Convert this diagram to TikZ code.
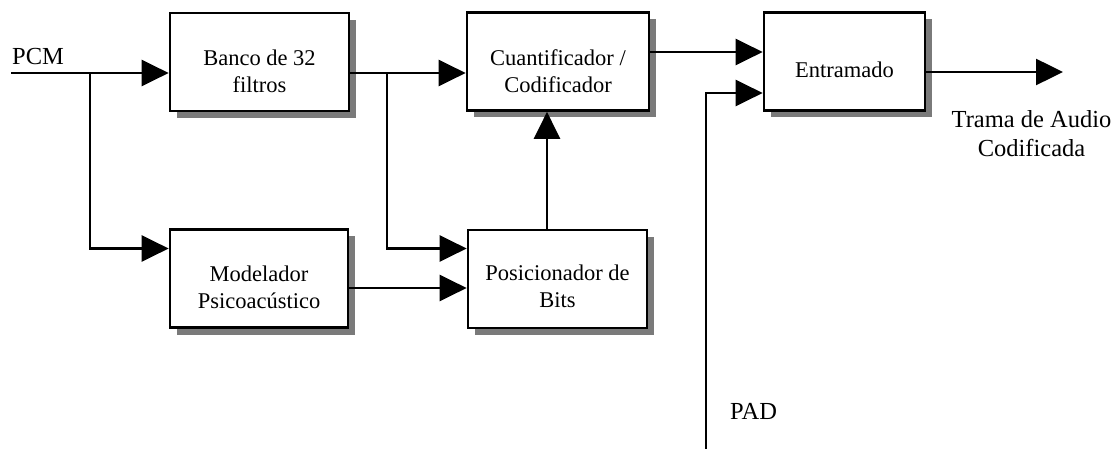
\documentclass[tikz,border=0pt]{standalone}
\usepackage{fontspec}
\setmainfont{Liberation Serif}
\usetikzlibrary{arrows.meta,shadows}

\begin{document}
\begin{tikzpicture}[x=1pt, y=-1pt,
		bloque/.style={draw, line width=2.7pt, fill=white, minimum width=#1, minimum height=98pt, inner sep=0pt,
			drop shadow={shadow xshift=7pt, shadow yshift=-7pt, fill=black!52, opacity=1}},
		texto/.style={align=center, font=\fontsize{22.5}{27}\selectfont, inner sep=0pt},
		rotulo/.style={font=\fontsize{24.5}{29}\selectfont, inner sep=0pt},
		flecha/.style={-{Triangle[length=27pt, width=26pt]}, line width=2.5pt}]
		\useasboundingbox (0,0) rectangle (1119,449);
		\node[bloque=179pt] (banco) at (259.5,62) {};
		\node[bloque=182pt] (cuant) at (558,61.5) {};
		\node[bloque=161pt] (entr) at (844.5,61.5) {};
		\node[bloque=178pt] (model) at (259,278.5) {};
		\node[bloque=179pt] (posic) at (557.5,279) {};
		\node[texto] (bancoT) at (259.5,71) {Banco de 32\\filtros};
		\node[texto] (cuantT) at (558,71) {Cuantificador /\\Codificador};
		\node[texto] (entrT) at (844.5,70) {Entramado};
		\node[texto] (modelT) at (259,287) {Modelador\\Psicoacústico};
		\node[texto] (posicT) at (557.5,286) {Posicionador de\\Bits};
		\node[rotulo, anchor=base west] (pcmT) at (12,65) {PCM};
		\node[rotulo, anchor=base west] (padT) at (730,419) {PAD};
		\node[rotulo, align=center] (tramaT) at (1031.5,134) {Trama de Audio\\Codificada};
		\coordinate (pcm) at (11,73);
		\coordinate (j1) at (90,73);
		\coordinate (j2) at (387,73);
		\coordinate (fila0) at (0,52);
		\coordinate (fila1) at (0,248.5);
		\coordinate (fila2) at (0,288);
		\coordinate (fila3) at (0,93);
		\coordinate (col) at (547,0);
		\coordinate (pad) at (706,449);
		\coordinate (salida) at (1063,72);
		\draw[flecha] (pcm) -- (pcm -| banco.west);
		\draw[flecha] (j1) |- (fila1 -| model.west);
		\draw[flecha] (j2 -| banco.east) -- (j2 -| cuant.west);
		\draw[flecha] (j2) |- (fila1 -| posic.west);
		\draw[flecha] (fila2 -| model.east) -- (fila2 -| posic.west);
		\draw[flecha] (col |- posic.north) -- (col |- cuant.south);
		\draw[flecha] (fila0 -| cuant.east) -- (fila0 -| entr.west);
		\draw[flecha] (pad) |- (fila3 -| entr.west);
		\draw[flecha] (salida -| entr.east) -- (salida);
	\end{tikzpicture}
\end{document}
